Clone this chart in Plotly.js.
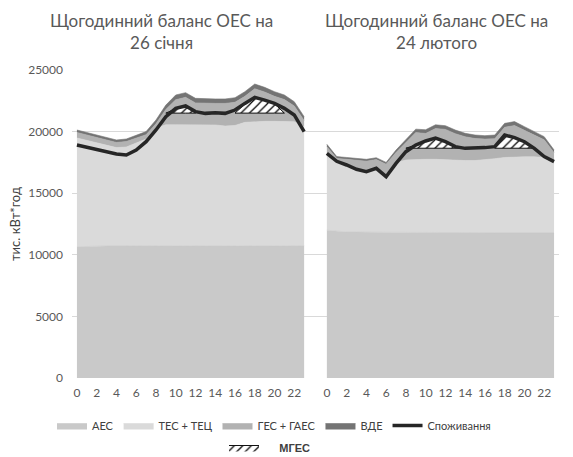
<!DOCTYPE html>
<html>
<head>
<meta charset="utf-8">
<script src="https://cdn.plot.ly/plotly-3.0.1.min.js"></script>
<style>html,body{margin:0;padding:0;background:#fff;}#chart{width:573px;height:457px;}</style>
</head>
<body>
<div id="chart"></div>
<script>
// ---- data ----
const hours = [0,1,2,3,4,5,6,7,8,9,10,11,12,13,14,15,16,17,18,19,20,21,22,23];
const tickHours = [0,2,4,6,8,10,12,14,16,18,20,22];
const titleJan = "Щогодинний баланс ОЕС на<br>26 січня";
const titleFeb = "Щогодинний баланс ОЕС на<br>24 лютого";
const seriesNames = ["АЕС", "ТЕС + ТЕЦ", "ГЕС + ГАЕС", "ВДЕ", "Споживання", "МГЕС"];

// 26 January
const janAES  = [10650,10700,10700,10720,10720,10720,10750,10750,10760,10760,10760,10750,10740,10730,10720,10700,10720,10740,10750,10760,10760,10750,10740,10740];
const janTES  = [8830,8580,8370,8180,7980,8030,8320,8650,9540,9790,9790,9810,9820,9820,9820,9750,9780,10010,10070,10070,10070,10080,10060,9660];
const janGES  = [450,450,450,450,420,450,430,350,340,1250,2040,2220,1770,1740,1750,1840,1880,2110,2660,2380,2030,1770,1280,510];
const janVDE  = [200,200,200,200,200,200,220,250,300,350,380,380,370,360,360,360,370,380,380,380,380,370,350,300];
const janCons = [18910,18740,18560,18350,18180,18100,18500,19180,20130,21210,21890,22080,21620,21480,21540,21480,21750,22290,22780,22560,22290,21890,21350,20000];
const janMGES = [0,0,0,0,0,0,0,0,0,0,350,550,0,0,0,0,0,720,1260,1050,760,0,0,0];
const janMGESBase = 21500;

// 24 February
const febAES  = [12000,11900,11850,11850,11830,11830,11820,11820,11820,11810,11810,11800,11800,11800,11800,11800,11800,11800,11800,11800,11800,11800,11800,11800];
const febTES  = [6300,5720,5470,5130,4960,5230,4580,5660,5880,5940,5940,5950,5900,5900,5850,5850,5900,6000,6100,6150,6150,6150,6100,5700];
const febGES  = [470,200,430,700,810,670,950,820,1370,2170,2100,2500,2480,2130,1930,1790,1690,1620,2450,2540,2150,1760,1430,790];
const febVDE  = [200,150,150,150,150,150,150,200,250,280,300,300,300,300,280,280,280,300,320,320,300,280,260,220];
const febCons = [18240,17590,17290,16940,16750,17020,16340,17420,18370,18910,19240,19480,19180,18780,18640,18640,18700,18780,19720,19510,19180,18640,17970,17560];
const febMGES = [0,0,0,0,0,0,0,0,0,260,590,830,530,130,0,0,0,0,1070,860,530,0,0,0];
const febMGESBase = 18650;

const yTicks = [0,5000,10000,15000,20000,25000];

// ---- styling / layout ----
const FEB_OFFSET = 25.3; // horizontal shift of the second panel on the shared axis
const colors = {aes:"#c9c9c9", tes:"#dadada", ges:"#b2b2b2", vde:"#747474", cons:"#262626"};
const xJan = hours.slice();
const xFeb = hours.map(h => h + FEB_OFFSET);

function stackTrace(x, y, name, color, group, show) {
  return {type:"scatter", mode:"lines", x:x, y:y, name:name, stackgroup:group,
    fillcolor:color, line:{color:color, width:0.6, shape:"linear"},
    legendgroup:name, showlegend:show, hoverinfo:"skip"};
}

function hatchTraces(x, mges, base, show) {
  const out = [];
  let i = 0;
  while (i < mges.length) {
    if (mges[i] > 0) {
      let s = Math.max(0, i - 1);
      let e = i;
      while (e + 1 < mges.length && mges[e + 1] > 0) e++;
      e = Math.min(mges.length - 1, e + 1);
      const px = [], py = [];
      for (let k = s; k <= e; k++) { px.push(x[k]); py.push(base + mges[k]); }
      for (let k = e; k >= s; k--) { px.push(x[k]); py.push(base); }
      px.push(x[s]); py.push(base + mges[s]);
      out.push({type:"scatter", mode:"lines", x:px, y:py, fill:"toself",
        fillcolor:"#ffffff",
        fillpattern:{shape:"/", fgcolor:"#000000", bgcolor:"#ffffff", size:6, solidity:0.2},
        line:{color:"#111111", width:1}, name:"\u00a0\u00a0\u00a0\u00a0\u00a0<b>" + seriesNames[5] + "</b>",
        legend:"legend2", legendgroup:"mges", showlegend:show && out.length === 0, hoverinfo:"skip"});
      i = e + 1;
    } else i++;
  }
  return out;
}

const traces = [
  stackTrace(xJan, janAES, seriesNames[0], colors.aes, "jan", true),
  stackTrace(xJan, janTES, seriesNames[1], colors.tes, "jan", true),
  stackTrace(xJan, janGES, seriesNames[2], colors.ges, "jan", true),
  stackTrace(xJan, janVDE, seriesNames[3], colors.vde, "jan", true),
  stackTrace(xFeb, febAES, seriesNames[0], colors.aes, "feb", false),
  stackTrace(xFeb, febTES, seriesNames[1], colors.tes, "feb", false),
  stackTrace(xFeb, febGES, seriesNames[2], colors.ges, "feb", false),
  stackTrace(xFeb, febVDE, seriesNames[3], colors.vde, "feb", false),
  ...hatchTraces(xJan, janMGES, janMGESBase, true),
  ...hatchTraces(xFeb, febMGES, febMGESBase, false),
  {type:"scatter", mode:"lines", x:xJan, y:janCons, name:seriesNames[4],
    line:{color:colors.cons, width:3.5}, legendgroup:"cons", showlegend:true, hoverinfo:"skip"},
  {type:"scatter", mode:"lines", x:xFeb, y:febCons, name:seriesNames[4],
    line:{color:colors.cons, width:3.5}, legendgroup:"cons", showlegend:false, hoverinfo:"skip"}
];

const tickvals = tickHours.concat(tickHours.map(h => h + FEB_OFFSET));
const ticktext = tickHours.concat(tickHours).map(String);

const L = 72, R = 14, T = 70, B = 79;
const W = 573, H = 457;
const pw = W - L - R, ph = H - T - B;
const px2paper = p => (p - L) / pw;
const py2paper = p => (H - B - p) / ph;

const layout = {
  width:W, height:H,
  margin:{l:L, r:R, t:T, b:B, pad:0, autoexpand:false},
  paper_bgcolor:"#ffffff", plot_bgcolor:"#ffffff",
  font:{family:"Lato, 'Open Sans', sans-serif", color:"#595959"},
  showlegend:true,
  xaxis:{range:[-0.5, 48.8], tickmode:"array", tickvals:tickvals, ticktext:ticktext,
    showgrid:false, zeroline:false, showline:false, ticks:"", automargin:false,
    tickfont:{size:12, color:"#595959"}, ticklabelstandoff:6, fixedrange:true},
  yaxis:{range:[0, 25000], tickmode:"array", tickvals:yTicks, ticktext:yTicks.map(String), showgrid:true,
    gridcolor:"#d9d9d9", gridwidth:1, zeroline:false, showline:false, ticks:"", automargin:false,
    tickfont:{size:12, color:"#595959"}, ticklabelstandoff:8,
    title:{text:"тис. кВт*год", font:{size:13, color:"#404040"}, standoff:4}, fixedrange:true},
  legend:{orientation:"h", x:px2paper(52), xanchor:"left", y:py2paper(411), yanchor:"top",
    traceorder:"normal", font:{size:11, color:"#404040"}, bgcolor:"rgba(0,0,0,0)", itemwidth:30},
  legend2:{orientation:"h", x:px2paper(224), xanchor:"left", y:py2paper(433), yanchor:"top",
    font:{size:11, color:"#404040", family:"Liberation Sans, Arial, sans-serif"}, bgcolor:"rgba(0,0,0,0)", itemwidth:30},
  annotations:[
    {text:titleJan, xref:"paper", yref:"paper", x:px2paper(161), y:py2paper(8), xanchor:"center", yanchor:"top",
      showarrow:false, font:{size:17, color:"#595959", family:"Lato, sans-serif"}, align:"center"},
    {text:titleFeb, xref:"paper", yref:"paper", x:px2paper(436), y:py2paper(8), xanchor:"center", yanchor:"top",
      showarrow:false, font:{size:17, color:"#595959", family:"Lato, sans-serif"}, align:"center"}
  ]
};

Plotly.newPlot("chart", traces, layout, {staticPlot:true, displayModeBar:false});
</script>
</body>
</html>
